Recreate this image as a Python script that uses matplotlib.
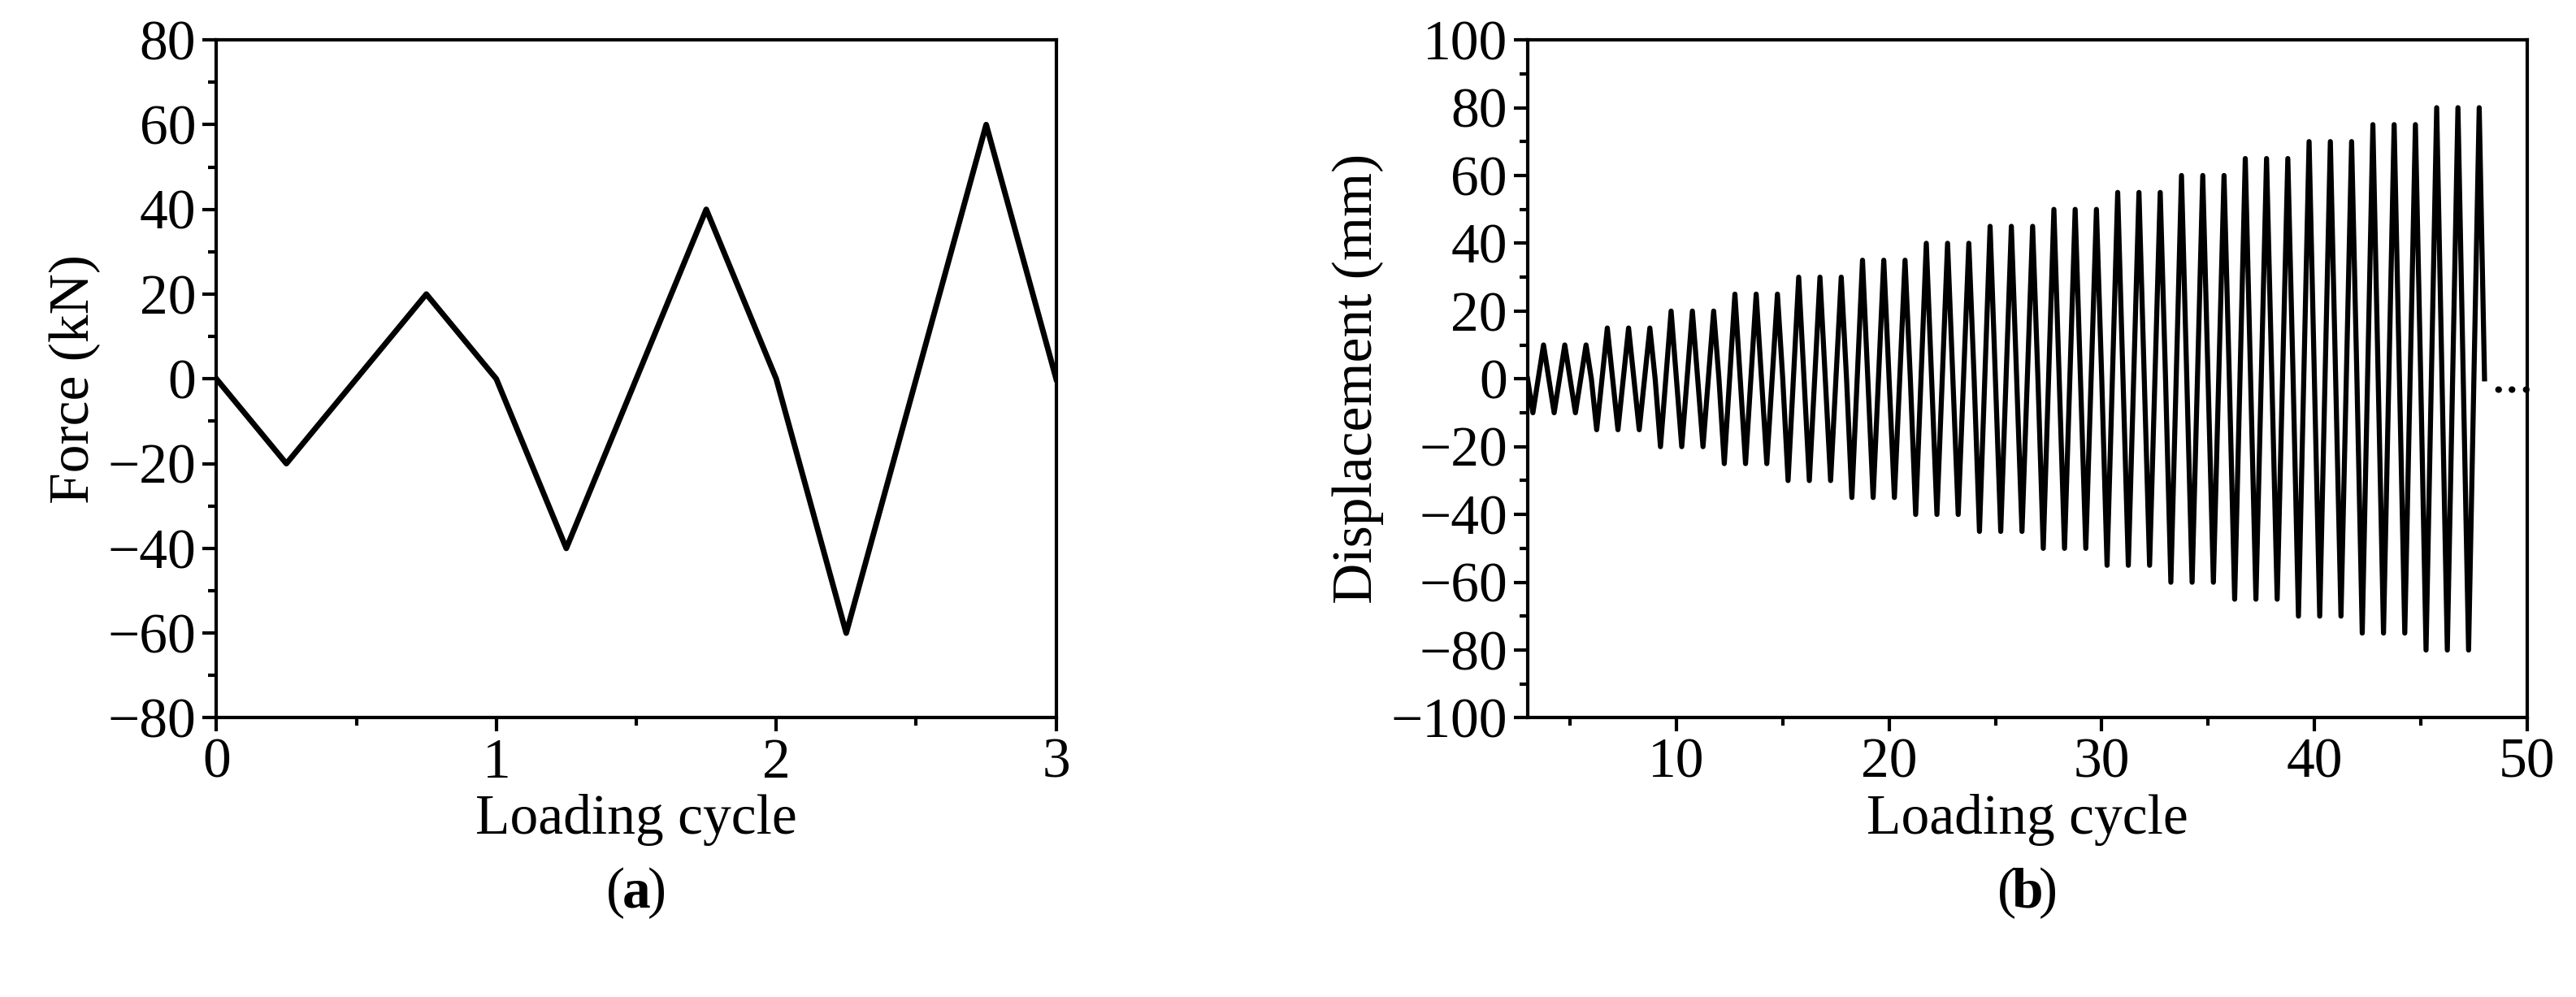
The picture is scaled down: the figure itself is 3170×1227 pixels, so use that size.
import matplotlib
matplotlib.use("Agg")
import matplotlib.pyplot as plt
import matplotlib.ticker as mticker

plt.rcParams["font.family"] = ["Liberation Serif", "DejaVu Serif"]
plt.rcParams["axes.unicode_minus"] = True

# ── Data ──────────────────────────────────────────────────────────────────────
# (a) force-controlled loading
force_x = [0, 0.25, 0.75, 1.0, 1.25, 1.75, 2.0, 2.25, 2.75, 3.0]
force_y = [0, -20, 20, 0, -40, 40, 0, -60, 60, 0]

# (b) displacement-controlled: amplitude levels, 3 cycles each, starting at cycle 3
disp_amps = [10, 15, 20, 25, 30, 35, 40, 45, 50, 55, 60, 65, 70, 75, 80]
cycles_per_level = 3
disp_start = 3

disp_x, disp_y = [disp_start], [0]
c = disp_start
for a in disp_amps:
    for _ in range(cycles_per_level):
        disp_x += [c + 0.25, c + 0.75, c + 1.0]
        disp_y += [-a, a, 0]
        c += 1

# ── Figure ────────────────────────────────────────────────────────────────────
fig = plt.figure(figsize=(31.7, 12.27), dpi=100)
ax1 = fig.add_axes([0.084, 0.28, 0.326, 0.68])
ax2 = fig.add_axes([0.593, 0.28, 0.388, 0.68])

FS = 50
for ax in (ax1, ax2):
    for s in ax.spines.values():
        s.set_linewidth(3)
    ax.tick_params(which="major", direction="out", length=12, width=3, labelsize=FS, pad=6)
    ax.tick_params(which="minor", direction="out", length=7, width=3)

ax1.plot(force_x, force_y, color="black", lw=5)
ax1.set_xlim(0, 3)
ax1.set_ylim(-80, 80)
ax1.xaxis.set_major_locator(mticker.MultipleLocator(1))
ax1.xaxis.set_minor_locator(mticker.MultipleLocator(0.5))
ax1.yaxis.set_major_locator(mticker.MultipleLocator(20))
ax1.yaxis.set_minor_locator(mticker.MultipleLocator(10))
ax1.set_xlabel("Loading cycle", fontsize=FS, labelpad=4)
ax1.set_ylabel("Force (kN)", fontsize=FS, labelpad=6)

ax2.plot(disp_x, disp_y, color="black", lw=4.5)
ax2.text(disp_x[-1] + 0.3, 0, "...", fontsize=FS, va="center", ha="left")
ax2.set_xlim(3, 50)
ax2.set_ylim(-100, 100)
ax2.xaxis.set_major_locator(mticker.MultipleLocator(10))
ax2.xaxis.set_minor_locator(mticker.MultipleLocator(5))
ax2.yaxis.set_major_locator(mticker.MultipleLocator(20))
ax2.yaxis.set_minor_locator(mticker.MultipleLocator(10))
ax2.set_xlabel("Loading cycle", fontsize=FS, labelpad=4)
ax2.set_ylabel("Displacement (mm)", fontsize=FS, labelpad=6)

# captions: "(" + bold letter + ")"
for xc, letter in [(0.247, "a"), (0.787, "b")]:
    t = fig.text(xc, 0.09, letter, fontsize=FS, ha="center", va="baseline", fontweight="bold")
    fig.text(0, 0, "(", fontsize=FS, ha="right", va="baseline",
             transform=matplotlib.transforms.offset_copy(fig.transFigure, fig=fig, x=0, y=0))
    fig.texts[-1].remove()
    fig.text(0, 0, "", fontsize=FS)
    fig.texts[-1].remove()
    ax_dummy = None
    fig.text(xc, 0.09, "(", fontsize=FS, ha="right", va="baseline",
             transform=matplotlib.transforms.offset_copy(fig.transFigure, fig=fig, x=-14, y=0, units="dots"))
    fig.text(xc, 0.09, ")", fontsize=FS, ha="left", va="baseline",
             transform=matplotlib.transforms.offset_copy(fig.transFigure, fig=fig, x=14, y=0, units="dots"))

fig.savefig("out.png", dpi=100)
